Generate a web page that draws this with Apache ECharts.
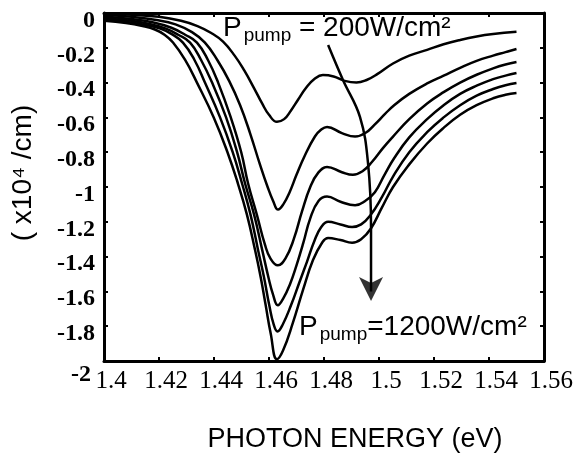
<!DOCTYPE html>
<html>
<head>
<meta charset="utf-8">
<script src="https://cdn.jsdelivr.net/npm/echarts@6/dist/echarts.min.js"></script>
<style>
    html, body { margin: 0; padding: 0; background: #fff; }
    #chart { width: 582px; height: 459px; }
</style>
</head>
<body>
<div id="chart"></div>
<script>
// axis ranges
const xMin = 1.4, xMax = 1.56, xStep = 0.02;
const yMin = -2, yMax = 0, yStep = 0.2;

// curves: [photon energy (eV), absorption change (x10^4 /cm)], 200 -> 1200 W/cm2
const p200 = [[1.400,-0.003],[1.410,-0.01],[1.420,-0.022],[1.428,-0.045],[1.434,-0.075],[1.439,-0.115],[1.4433,-0.165],[1.4475,-0.245],[1.451,-0.33],[1.4545,-0.43],[1.4575,-0.52],[1.460,-0.585],[1.4629,-0.625],[1.4655,-0.61],[1.468,-0.56],[1.4705,-0.50],[1.4735,-0.43],[1.4765,-0.38],[1.4796,-0.357],[1.4835,-0.365],[1.4875,-0.39],[1.4918,-0.40],[1.4955,-0.385],[1.4995,-0.35],[1.5051,-0.29],[1.511,-0.245],[1.5175,-0.212],[1.5235,-0.18],[1.5295,-0.155],[1.5355,-0.135],[1.5415,-0.121],[1.550,-0.108]];
const p400 = [[1.400,-0.01],[1.410,-0.022],[1.419,-0.04],[1.426,-0.065],[1.432,-0.11],[1.4367,-0.17],[1.4412,-0.27],[1.4455,-0.39],[1.4495,-0.53],[1.4531,-0.69],[1.4567,-0.87],[1.4595,-1.00],[1.4615,-1.08],[1.4633,-1.13],[1.4652,-1.10],[1.4675,-1.03],[1.470,-0.93],[1.473,-0.82],[1.4767,-0.71],[1.479,-0.67],[1.4811,-0.655],[1.4865,-0.69],[1.4913,-0.71],[1.495,-0.69],[1.4985,-0.64],[1.5022,-0.58],[1.5055,-0.53],[1.511,-0.465],[1.5175,-0.405],[1.5235,-0.36],[1.5295,-0.315],[1.5355,-0.275],[1.5415,-0.245],[1.546,-0.225],[1.550,-0.207]];
const p600 = [[1.400,-0.02],[1.410,-0.035],[1.418,-0.055],[1.4245,-0.085],[1.4295,-0.125],[1.4338,-0.17],[1.4378,-0.27],[1.4415,-0.40],[1.4461,-0.60],[1.4499,-0.80],[1.4524,-0.98],[1.4556,-1.16],[1.4585,-1.33],[1.4605,-1.41],[1.4632,-1.45],[1.466,-1.41],[1.469,-1.30],[1.472,-1.14],[1.475,-1.00],[1.4778,-0.92],[1.4811,-0.885],[1.4865,-0.915],[1.4905,-0.93],[1.494,-0.91],[1.4975,-0.855],[1.5015,-0.775],[1.5051,-0.71],[1.511,-0.61],[1.5175,-0.52],[1.5235,-0.455],[1.5295,-0.40],[1.5355,-0.355],[1.5415,-0.318],[1.546,-0.296],[1.550,-0.282]];
const p800 = [[1.400,-0.03],[1.410,-0.045],[1.417,-0.065],[1.4225,-0.09],[1.427,-0.125],[1.4313,-0.17],[1.4353,-0.27],[1.4393,-0.40],[1.4444,-0.60],[1.4484,-0.80],[1.4513,-0.98],[1.4546,-1.16],[1.4575,-1.36],[1.4598,-1.52],[1.4615,-1.62],[1.4632,-1.68],[1.4652,-1.64],[1.4676,-1.56],[1.470,-1.45],[1.4725,-1.32],[1.475,-1.18],[1.478,-1.08],[1.4811,-1.055],[1.486,-1.085],[1.4913,-1.105],[1.495,-1.08],[1.4985,-1.03],[1.502,-0.93],[1.5055,-0.835],[1.511,-0.715],[1.5175,-0.61],[1.5235,-0.53],[1.5295,-0.465],[1.5355,-0.418],[1.5415,-0.38],[1.546,-0.36],[1.550,-0.345]];
const p1000 = [[1.400,-0.04],[1.409,-0.053],[1.4155,-0.07],[1.4205,-0.09],[1.4245,-0.12],[1.4287,-0.17],[1.4329,-0.27],[1.4367,-0.40],[1.4422,-0.60],[1.4468,-0.80],[1.4502,-0.98],[1.4533,-1.16],[1.456,-1.36],[1.4582,-1.52],[1.4601,-1.68],[1.4617,-1.79],[1.4631,-1.83],[1.465,-1.79],[1.468,-1.68],[1.471,-1.55],[1.4738,-1.43],[1.4765,-1.31],[1.479,-1.23],[1.4815,-1.20],[1.486,-1.215],[1.4902,-1.23],[1.4935,-1.215],[1.497,-1.16],[1.501,-1.06],[1.5051,-0.94],[1.511,-0.80],[1.5175,-0.685],[1.5235,-0.60],[1.5295,-0.53],[1.5355,-0.475],[1.5415,-0.437],[1.546,-0.415],[1.550,-0.402]];
const p1200 = [[1.400,-0.045],[1.408,-0.058],[1.414,-0.075],[1.4185,-0.095],[1.422,-0.125],[1.4251,-0.17],[1.4295,-0.27],[1.4338,-0.40],[1.4399,-0.60],[1.4449,-0.80],[1.4487,-0.98],[1.452,-1.16],[1.4549,-1.36],[1.457,-1.52],[1.4588,-1.68],[1.4606,-1.84],[1.4629,-1.99],[1.4651,-1.94],[1.4687,-1.78],[1.4724,-1.59],[1.476,-1.42],[1.4793,-1.32],[1.4815,-1.293],[1.486,-1.305],[1.4902,-1.32],[1.4935,-1.30],[1.497,-1.24],[1.501,-1.12],[1.5051,-1.0],[1.511,-0.87],[1.5175,-0.75],[1.5235,-0.66],[1.5295,-0.585],[1.5355,-0.53],[1.5415,-0.49],[1.546,-0.47],[1.550,-0.46]];
const curves = [p200, p400, p600, p800, p1000, p1200];

// arrow showing increasing pump power
const arrowPath = [[1.4815,-0.184],[1.4869,-0.385],[1.4931,-0.598],[1.496,-0.862],[1.4971,-1.23],[1.4971,-1.60]];
const arrowHead = [[1.4971,-1.655]];

const labelTop = '{p|P}{s|pump}{n| = 200W/cm²}';
const labelBottom = '{p|P}{s|pump}{n|=1200W/cm²}';

const chart = echarts.init(document.getElementById('chart'));

const serif = '"Liberation Serif", "Times New Roman", serif';
const sans = '"Liberation Sans", Arial, sans-serif';

const richText = {
    p: { fontSize: 28, fontFamily: sans, lineHeight: 40, verticalAlign: 'middle' },
    s: { fontSize: 19, fontFamily: sans, lineHeight: 40, padding: [16, 0, 0, 2] },
    n: { fontSize: 28, fontFamily: sans, lineHeight: 40, verticalAlign: 'middle' }
};

function frameAxis(pos, isX) {
    return {
        type: 'value',
        position: pos,
        min: isX ? xMin : yMin,
        max: isX ? xMax : yMax,
        interval: isX ? xStep : yStep,
        axisLine: { show: true, onZero: false, lineStyle: { color: '#000', width: 3 } },
        axisTick: { show: true, inside: true, length: 4, lineStyle: { color: '#000', width: 2 } },
        axisLabel: { show: false },
        splitLine: { show: false }
    };
}

const series = curves.map(function(c) {
    return {
        type: 'line',
        data: c,
        smooth: 0.45,
        symbol: 'none',
        silent: true,
        lineStyle: { color: '#000', width: 2.5, join: 'round' }
    };
});
series.push({
    type: 'line',
    data: arrowPath,
    smooth: 0.4,
    symbol: 'none',
    silent: true,
    lineStyle: { color: '#000', width: 2.5 }
});
series.push({
    type: 'scatter',
    data: arrowHead,
    symbol: 'arrow',
    symbolRotate: 180,
    symbolSize: [18, 24],
    silent: true,
    itemStyle: { color: '#000' }
});

chart.setOption({
    backgroundColor: '#fff',
    animation: false,
    grid: { left: 104, right: 38, top: 13, bottom: 98, outerBoundsMode: 'none' },
    xAxis: [
        {
            type: 'value',
            position: 'bottom',
            min: xMin, max: xMax, interval: xStep,
            axisLine: { show: true, onZero: false, lineStyle: { color: '#000', width: 3 } },
            axisTick: { show: true, inside: true, length: 4, lineStyle: { color: '#000', width: 2 } },
            axisLabel: {
                color: '#000', fontFamily: serif, fontSize: 25, margin: 8,
                padding: [0, 0, 0, 14]
            },
            splitLine: { show: false }
        },
        frameAxis('top', true)
    ],
    yAxis: [
        {
            type: 'value',
            position: 'left',
            min: yMin, max: yMax, interval: yStep,
            axisLine: { show: true, onZero: false, lineStyle: { color: '#000', width: 3 } },
            axisTick: { show: true, inside: true, length: 4, lineStyle: { color: '#000', width: 2 } },
            axisLabel: {
                color: '#000', fontFamily: serif, fontSize: 24, fontWeight: 'bold', margin: 9,
                verticalAlign: 'top', lineHeight: 15,
                // the bottom label sits lower, next to the x labels
                formatter: function(v) {
                    return v === yMin ? '{low|' + v + '}' : String(v);
                },
                rich: {
                    low: {
                        fontFamily: serif, fontSize: 24, fontWeight: 'bold', lineHeight: 15,
                        padding: [13, 4, 0, 0]
                    }
                }
            },
            splitLine: { show: false }
        },
        frameAxis('right', false)
    ],
    graphic: [
        {
            type: 'text', x: 223, y: 8, silent: true,
            style: { text: labelTop, rich: richText, fill: '#000' }
        },
        {
            type: 'text', x: 299, y: 307, silent: true,
            style: { text: labelBottom, rich: richText, fill: '#000' }
        },
        {
            type: 'text', x: 23, y: 173, rotation: Math.PI / 2, silent: true,
            style: {
                text: '( x10⁴ /cm)', fill: '#000', font: '28px ' + sans,
                align: 'center', verticalAlign: 'middle'
            }
        },
        {
            type: 'text', x: 355, y: 440, silent: true,
            style: {
                text: 'PHOTON ENERGY (eV)', fill: '#000', font: '27px ' + sans,
                align: 'center', verticalAlign: 'middle'
            }
        }
    ],
    series: series
});

window.addEventListener('resize', function() {
    chart.resize();
});
</script>
</body>
</html>
